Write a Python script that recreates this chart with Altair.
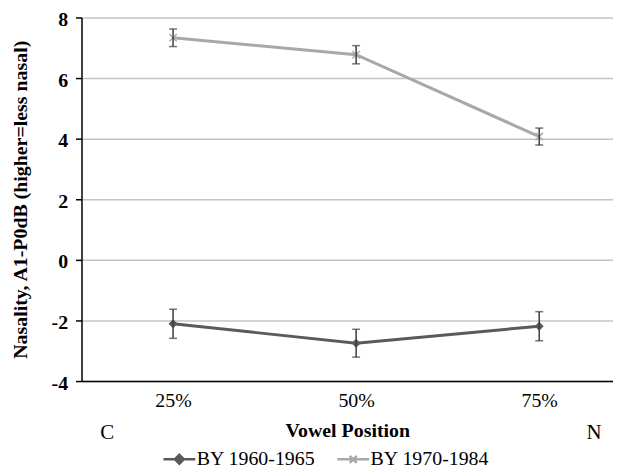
import json
import altair as alt
import pandas as pd

# ---- data ----
positions = ["25%", "50%", "75%"]
pos_index = [0, 1, 2]
series_names = ["BY 1960-1965", "BY 1970-1984"]
mean_1960 = [-2.11, -2.75, -2.19]
err_1960 = [0.48, 0.46, 0.48]
mean_1970 = [7.33, 6.77, 4.07]
err_1970 = [0.29, 0.30, 0.28]
series_colors = ["#5a5a5a", "#a8a8a8"]
y_ticks = [-4, -2, 0, 2, 4, 6, 8]
corner_labels = ["C", "N"]
corner_x = [-0.36, 2.30]
corner_y = [-5.72, -5.72]

rows = []
for s, means, errs in [(series_names[0], mean_1960, err_1960),
                       (series_names[1], mean_1970, err_1970)]:
    for p, lab, m, e in zip(pos_index, positions, means, errs):
        rows.append({"pos": p, "label": lab, "series": s, "mean": m,
                     "lo": m - e, "hi": m + e})
df = pd.DataFrame(rows)
corner_df = pd.DataFrame({"txt": corner_labels, "cx": corner_x, "cy": corner_y})

FONT = "Liberation Serif"
label_expr = "%s[datum.value]" % json.dumps(positions)

xscale = alt.Scale(domain=[-0.5, 2.403], nice=False, zero=False)
yscale = alt.Scale(domain=[-4, 8], nice=False, zero=False)
xaxis = alt.Axis(values=pos_index, labelExpr=label_expr, grid=False, ticks=False,
                 domainColor="#000000", domainWidth=1.5, labelFont=FONT,
                 labelFontSize=20, labelColor="#000000", labelPadding=10,
                 title="Vowel Position", titleFont=FONT, titleFontSize=20,
                 titleFontWeight="bold", titleColor="#000000", titlePadding=10)
yaxis = alt.Axis(values=y_ticks, labelExpr="datum.value + ''", grid=True,
                 gridColor="#c4c4c4", gridWidth=1.5,
                 domainColor="#000000", domainWidth=1.5, tickColor="#000000",
                 tickWidth=1.5, tickSize=6, labelFont=FONT, labelFontSize=20,
                 labelFontWeight="bold", labelColor="#000000", labelPadding=8,
                 labelOffset=2,
                 title="Nasality, A1-P0dB (higher=less nasal)", titleFont=FONT,
                 titleFontSize=20, titleFontWeight="bold", titleColor="#000000",
                 titlePadding=21)


def X(field):
    return alt.X(field, type="quantitative", scale=xscale, axis=xaxis)


def Y(field):
    return alt.Y(field, type="quantitative", scale=yscale, axis=yaxis)


base = alt.Chart(df)

lines = base.mark_line(strokeWidth=3).encode(
    x=X("pos"), y=Y("mean"),
    color=alt.Color("series:N", scale=alt.Scale(domain=series_names, range=series_colors),
                    legend=None),
)

pts1 = base.transform_filter(alt.datum.series == series_names[0]).mark_point(
    shape="diamond", filled=True, size=75, color=series_colors[0], opacity=1
).encode(x=X("pos"), y=Y("mean"))

pts2 = base.transform_filter(alt.datum.series == series_names[1]).mark_point(
    shape="M-1,-1L1,1M-1,1L1,-1", filled=False, size=55, strokeWidth=1.5,
    color=series_colors[1], opacity=1
).encode(x=X("pos"), y=Y("mean"))

err_color = "#3c3c3c"
rules = base.mark_rule(color=err_color, strokeWidth=1.5).encode(
    x=X("pos"), y=Y("lo"), y2="hi")
cap_lo = base.mark_tick(orient="horizontal", size=8, thickness=1.5, color=err_color).encode(
    x=X("pos"), y=Y("lo"))
cap_hi = base.mark_tick(orient="horizontal", size=8, thickness=1.5, color=err_color).encode(
    x=X("pos"), y=Y("hi"))

legend_shapes = [
    "M-1,0L1,0M0,-0.28L0.28,0L0,0.28L-0.28,0Z",
    "M-1,0L1,0M-0.22,-0.22L0.22,0.22M-0.22,0.22L0.22,-0.22",
]
leg = alt.Legend(title=None, orient="none", legendX=81, legendY=427,
                 direction="horizontal", symbolSize=1024, symbolStrokeWidth=2.5,
                 labelFont=FONT, labelFontSize=20, labelColor="#000000",
                 labelOffset=0, columnPadding=16, padding=0, symbolOpacity=1)
sc_fill = alt.Scale(domain=series_names, range=series_colors)
sc_shape = alt.Scale(domain=series_names, range=legend_shapes)
legend_layer = base.mark_point(size=1024, strokeWidth=2.5, filled=True).encode(
    x=X("pos"), y=Y("mean"),
    color=alt.Color("series:N", scale=sc_fill, legend=leg),
    shape=alt.Shape("series:N", scale=sc_shape, legend=leg),
)

corner = alt.Chart(corner_df).mark_text(font=FONT, fontSize=21, color="#000000",
                                        baseline="middle", align="center").encode(
    x=X("cx"), y=Y("cy"), text="txt:N")

chart = alt.layer(legend_layer, lines, pts1, pts2, rules, cap_lo, cap_hi, corner).properties(
    width=535, height=366,
    autosize=alt.AutoSizeParams(type="none"),
    padding={"left": 74, "top": 8, "right": 0, "bottom": 90},
    background="white",
).configure_view(stroke=None)

chart.save("out.html", embed_options={"renderer": "svg", "actions": False})
